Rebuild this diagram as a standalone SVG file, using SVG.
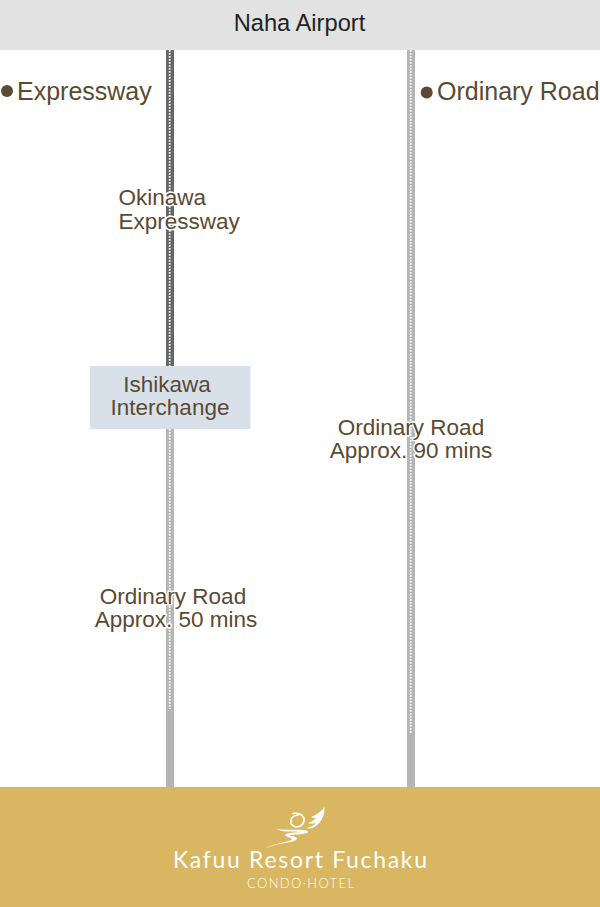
<svg xmlns="http://www.w3.org/2000/svg" width="600" height="907" viewBox="0 0 600 907">
<style>
text{font-family:"Liberation Sans",Arial,sans-serif;fill:#5a4a33}
.hd{font-size:25px}
.lb{font-size:22.500px;paint-order:stroke;stroke:#fff;stroke-width:3px;stroke-linejoin:round}
.nt{font-size:22.500px}
.dot{stroke:#fff;stroke-width:1.700;stroke-dasharray:1.700 1.300;fill:none}
.lg{fill:#fff;stroke:none}
</style>
<rect width="600" height="907" fill="#fff"/>
<g id="connectors">
<rect x="166" y="50" width="8" height="316" fill="#666"/>
<rect x="166" y="429" width="8" height="358" fill="#b5b5b5"/>
<rect x="407" y="50" width="8" height="737" fill="#b5b5b5"/>
<path class="dot" d="M169.700 50V366M169.700 429V709M410.700 50V734"/>
</g>
<g id="naha-airport"><rect width="600" height="50" fill="#e2e2e2"/><text x="299.500" y="31" text-anchor="middle" style="font-size:23.700px;fill:#222">Naha Airport</text></g>
<g id="legend-expressway"><circle cx="7" cy="91" r="6" fill="#5a4a33"/><text class="hd" x="17" y="100">Expressway</text></g>
<g id="legend-ordinary"><circle cx="426.700" cy="92.500" r="6" fill="#5a4a33"/><text class="hd" x="437" y="100">Ordinary Road</text></g>
<g id="okinawa-expressway"><text class="lb" x="118.500" y="205">Okinawa</text><text class="lb" x="118.500" y="229">Expressway</text></g>
<g id="ishikawa-interchange"><rect x="90" y="366" width="160.500" height="63" fill="#d8e1ea"/><text class="nt" x="167" y="392" text-anchor="middle">Ishikawa</text><text class="nt" x="170" y="415" text-anchor="middle">Interchange</text></g>
<g id="road-90"><text class="lb" x="411" y="435" text-anchor="middle">Ordinary Road</text><text class="lb" x="411" y="458" text-anchor="middle">Approx. 90 mins</text></g>
<g id="road-50"><text class="lb" x="173" y="604" text-anchor="middle">Ordinary Road</text><text class="lb" x="176" y="627" text-anchor="middle">Approx. 50 mins</text></g>
<g id="kafuu-resort"><rect y="787" width="600" height="120" fill="#d9b661"/>
<path class="lg" d="M324.500 806.500C325 814 322 822 316 826C313 828 310 829 307 828C311 827 314 825 316 823C313 824 310 824 308 823C311 822 314 820 316 818C314 818 312 818 311 817C316 815 322 811 324.500 806.500Z"/>
<path d="M293 813.500C296 812.500 302 813.500 304 818C305 823 301 827 297 827C293 827 290 824 291 820C291.500 817 295 815 298 815" fill="none" stroke="#fff" stroke-width="1.700" stroke-linecap="round"/>
<path class="lg" d="M276 828.500C283 831 296 829 304 830C308 830.500 309 832 307 833C302 835 294 834 289 835.500C293 836 298 837 297 839C295 842 283 843 275 845C272 846 269 847 266 848C272 844.500 282 843 290 840.500C293 839.500 292 838 288 837C285 836 284 834.500 287 833.500C291 832.500 297 832.500 301 832C294 831.500 281 832.500 276 828.500Z"/>
<text x="173" y="868" textLength="254" style="font-family:Lato,sans-serif;font-size:23px;font-weight:400;fill:#fff">Kafuu Resort Fuchaku</text>
<text x="247" y="888" textLength="107" style="font-family:Lato,sans-serif;font-size:13px;font-weight:300;fill:#fff">CONDO·HOTEL</text>
</g>
</svg>
